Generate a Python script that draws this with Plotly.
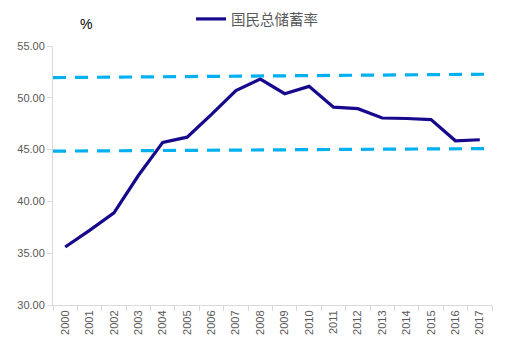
import plotly.graph_objects as go

years = [str(y) for y in range(2000, 2018)]
savings_rate = [35.6, 37.2, 38.9, 42.5, 45.7, 46.2, 48.4, 50.7, 51.8, 50.4, 51.1,
                49.1, 48.95, 48.05, 48.0, 47.9, 45.85, 45.95]
upper_band = [51.95, 52.28]
lower_band = [44.85, 45.1]
band_x = [-0.5, 17.5]
y_ticks = [30, 35, 40, 45, 50, 55]

fig = go.Figure()
fig.add_trace(go.Scatter(x=years, y=savings_rate, mode="lines", name="国民总储蓄率",
                         line=dict(color="#16098C", width=3.2)))
for band in (upper_band, lower_band):
    fig.add_trace(go.Scatter(x=band_x, y=band, mode="lines", xaxis="x2", showlegend=False,
                             line=dict(color="#00B0F0", width=3.2, dash="13px,9px"),
                             hoverinfo="skip"))

fig.update_layout(
    width=509, height=349,
    margin=dict(l=53, r=17, t=46, b=44, autoexpand=False),
    plot_bgcolor="white", paper_bgcolor="white",
    font=dict(family="Noto Sans CJK SC, Noto Sans, sans-serif", color="#595959"),
    showlegend=True,
    legend=dict(orientation="h", x=(257 - 53) / 439, xanchor="center", y=1 + (46 - 19) / 259,
                yanchor="middle", font=dict(size=14.5, color="#595959"), itemwidth=30),
    xaxis=dict(type="category", range=[-0.5, 17.5], tickangle=-90, tickson="boundaries",
               ticks="outside", ticklen=5, tickcolor="#D9D9D9", showline=True,
               linecolor="#D9D9D9", linewidth=1, showgrid=False,
               tickfont=dict(size=11, family="Liberation Sans, Arial, sans-serif", color="#595959")),
    xaxis2=dict(overlaying="x", range=[-0.5, 17.5], visible=False),
    yaxis=dict(range=[30, 55], tickvals=y_ticks, ticktext=[f"{v:.2f}" for v in y_ticks],
               ticks="outside", ticklen=5, tickcolor="#D9D9D9", showline=True,
               linecolor="#D9D9D9", linewidth=1, showgrid=False, zeroline=False,
               tickfont=dict(size=11, family="Liberation Sans, Arial, sans-serif", color="#595959")),
    annotations=[dict(text="%", xref="paper", yref="paper", x=(86 - 53) / 439, y=1 + (46 - 24) / 259,
                      showarrow=False, font=dict(size=14, color="#000000",
                                                 family="Liberation Sans, Arial, sans-serif"),
                      xanchor="center", yanchor="middle")],
)

fig.write_html("out.html")
